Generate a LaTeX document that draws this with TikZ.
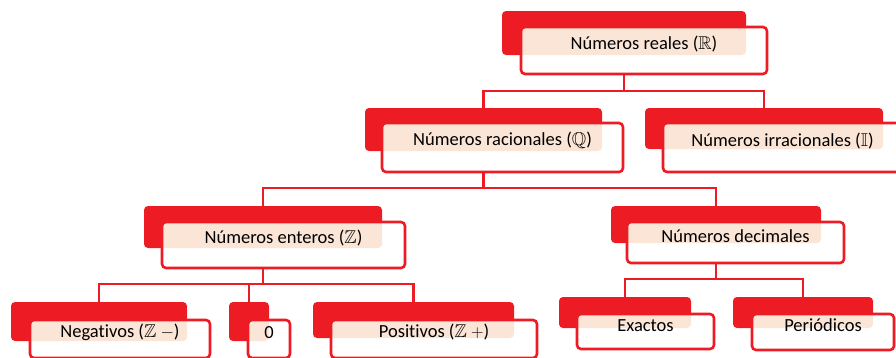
\documentclass[tikz,border=0pt]{standalone}
\usepackage{amssymb}
\usepackage{fontspec}
\setmainfont{Carlito}[Ligatures=NoCommon]
\usetikzlibrary{fit}
\definecolor{myred}{RGB}{237,28,36}
\definecolor{mypeach}{RGB}{251,229,214}
\tikzset{
  backbox/.style={fill=myred, draw=none, rounded corners=4pt, inner sep=0pt, outer sep=0pt},
  frontbox/.style={fill=white, draw=myred, line width=2.6pt, rounded corners=4pt, inner sep=0pt,
    font=\fontsize{18.5}{22}\selectfont, text=black},
  conn/.style={draw=myred, line width=2.4pt}
}
\newcommand\pairbox[4]{%
  \node[backbox, fit={#2}] (b#1) {};
  \node[frontbox, fit={#3},
    path picture={\fill[mypeach, rounded corners=4pt] (b#1.south west) rectangle (b#1.north east);}]
    (f#1) {#4};
}
\begin{document}
\begin{tikzpicture}[x=1pt, y=-1pt]
\useasboundingbox (0,0) rectangle (896,357);
\clip (0,0) rectangle (896,357);

\pairbox{R}{(502,11) (746,55)}{(521,27) (767,74)}{Números reales (\(\mathbb{R}\))}
\pairbox{Q}{(365,108) (602,151)}{(382,123) (623,172)}{Números racionales (\(\mathbb{Q}\))}
\pairbox{I}{(645,108) (883,149)}{(663,123) (902,172)}{Números irracionales (\(\mathbb{I}\))}
\pairbox{Z}{(144,206) (382,248)}{(162,222) (405,268)}{Números enteros (\(\mathbb{Z}\))}
\pairbox{D}{(611,206) (821,243)}{(627,222) (844,263)}{Números decimales}
\pairbox{N}{(11,302) (187,341)}{(30,320) (210,358)}{Negativos (\(\mathbb{Z}\) \(-\))}
\pairbox{C}{(229,302) (269,341)}{(248,320) (290,358)}{0}
\pairbox{P}{(313,302) (514,338)}{(331,320) (537,358)}{Positivos (\(\mathbb{Z}\) \(+\))}
\pairbox{E}{(559,297) (691,328)}{(577,314) (714,349)}{Exactos}
\pairbox{T}{(733,297) (873,328)}{(752,314) (894,350)}{Periódicos}

\coordinate (busA) at (0,91);
\coordinate (busB) at (0,188);
\coordinate (busC) at (0,284);
\coordinate (busD) at (0,279);

\draw[conn] (bR.center |- fR.south) -- (bR.center |- busA);
\draw[conn] (bQ.north) |- (busA -| bR.center) -| (bI.north);

\draw[conn] (bQ.center |- fQ.south) -- (bQ.center |- busB);
\draw[conn] (bZ.north) |- (busB -| bQ.center) -| (bD.north);

\draw[conn] (bZ.center |- fZ.south) -- (bZ.center |- busC);
\draw[conn] (bN.north) |- (busC -| bZ.center) -| (bP.north);
\draw[conn] (bC.north) -- (bC.north |- busC);

\draw[conn] (bD.center |- fD.south) -- (bD.center |- busD);
\draw[conn] (bE.north) |- (busD -| bD.center) -| (bT.north);
\end{tikzpicture}
\end{document}
